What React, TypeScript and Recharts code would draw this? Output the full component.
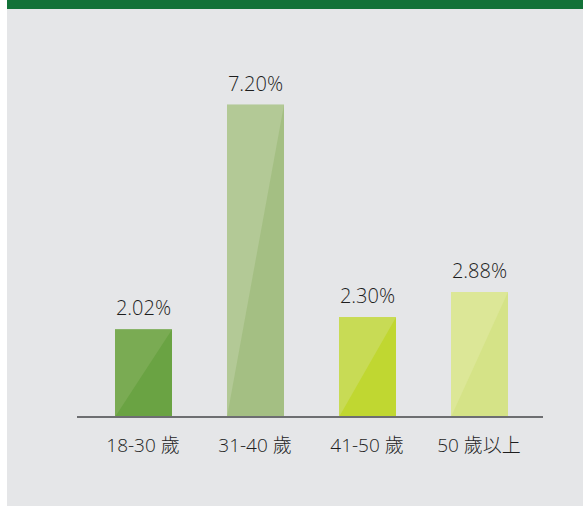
import React from "react";
import { BarChart, Bar, XAxis, YAxis, LabelList, Cell } from "recharts";

const categories = ["18-30 歲", "31-40 歲", "41-50 歲", "50 歲以上"];
const values = [2.02, 7.2, 2.3, 2.88];
const valueLabels = ["2.02%", "7.20%", "2.30%", "2.88%"];

const darkColors = ["#6aa343", "#a4bf83", "#c0d731", "#d5e387"];
const lightColors = ["#7aab53", "#b3c996", "#c8db55", "#dce797"];

const data = categories.map((c, i) => ({ name: c, value: values[i], label: valueLabels[i], idx: i }));

const FONT = '"Open Sans", "Noto Sans CJK TC", sans-serif';
const TEXT = "#1e1e1e";

const GlossBar = (props: any) => {
  const { x, y, width, height, payload } = props;
  const i = payload?.idx ?? 0;
  return (
    <g>
      <rect x={x} y={y} width={width} height={height} fill={darkColors[i]} />
      <polygon points={`${x},${y} ${x + width},${y} ${x},${y + height}`} fill={lightColors[i]} />
    </g>
  );
};

const ValueLabel = (props: any) => {
  const { x, y, width, value } = props;
  return (
    <text x={x + width / 2} y={y - 14} textAnchor="middle" fill={TEXT} fontSize={20} fontFamily={FONT} fontWeight={300}>
      {value}
    </text>
  );
};

const CatTick = (props: any) => {
  const { x, payload } = props;
  return (
    <text x={x} y={452} textAnchor="middle" fill={TEXT} fontSize={19} fontFamily={FONT} fontWeight={300}>
      {payload.value}
    </text>
  );
};

export default function App() {
  return (
    <div style={{ position: "absolute", left: 0, top: 0, width: 583, height: 506, background: "#ffffff" }}>
      <div style={{ position: "absolute", left: 7, top: 0, width: 576, height: 506, background: "#e5e6e8" }}>
        <div style={{ position: "absolute", left: 0, top: 0, width: 576, height: 9, background: "#137238" }} />
        <div style={{ position: "absolute", left: 0, top: 0 }}>
          <BarChart width={576} height={506} data={data} margin={{ top: 70, right: 40, bottom: 59, left: 70 }}>
            <XAxis
              dataKey="name"
              height={30}
              padding={{ left: 10, right: 8 }}
              axisLine={{ stroke: "#6d6e71", strokeWidth: 2 }}
              tickLine={false}
              tick={<CatTick />}
              interval={0}
            />
            <YAxis hide domain={[0, 8]} />
            <Bar dataKey="value" barSize={57} isAnimationActive={false} shape={GlossBar}>
              {data.map((d, i) => (
                <Cell key={i} fill={darkColors[i]} />
              ))}
              <LabelList dataKey="label" content={<ValueLabel />} />
            </Bar>
          </BarChart>
        </div>
      </div>
    </div>
  );
}
